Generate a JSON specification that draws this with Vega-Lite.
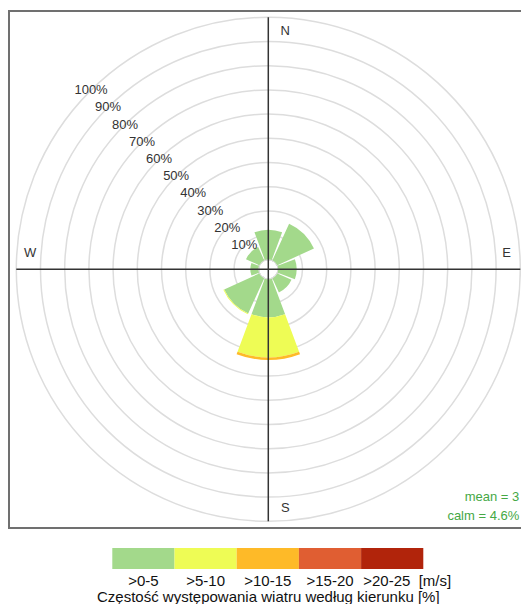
{
  "$schema": "https://vega.github.io/schema/vega-lite/v6.json",
  "padding": {"left": 8, "top": 10, "right": 0, "bottom": 0},
  "spacing": 19,
  "config": {"font": "Liberation Sans", "view": {"stroke": null}},
  "vconcat": [
    {
      "width": 514,
      "height": 517,
      "view": {"stroke": "#707070", "strokeWidth": 2},
      "layer": [
        {
          "data": {"values": [
            {"p": 10, "lab": "10%"}, {"p": 20, "lab": "20%"}, {"p": 30, "lab": "30%"}, {"p": 40, "lab": "40%"}, {"p": 50, "lab": "50%"},
            {"p": 60, "lab": "60%"}, {"p": 70, "lab": "70%"}, {"p": 80, "lab": "80%"}, {"p": 90, "lab": "90%"}, {"p": 100, "lab": "100%"}
          ]},
          "mark": {"type": "arc", "filled": false, "stroke": "#dddddd", "strokeWidth": 1.5, "theta": 0, "theta2": 6.2832},
          "encoding": {
            "x": {"datum": 0, "type": "quantitative", "scale": {"domain": [-259.3, 254.7], "nice": false, "zero": false}, "axis": null},
            "y": {"datum": 0, "type": "quantitative", "scale": {"domain": [-258.7, 258.3], "nice": false, "zero": false}, "axis": null},
            "radius": {"field": "p", "type": "quantitative", "stack": null, "scale": {"type": "linear", "domain": [0, 100], "range": [10, 252], "zero": false, "nice": false}}
          }
        },
        {
          "data": {"values": [
            {"dir": 0, "speed": ">0-5", "lo": 0, "freq": 12.2},
            {"dir": 45, "speed": ">0-5", "lo": 0, "freq": 16.6},
            {"dir": 90, "speed": ">0-5", "lo": 0, "freq": 7.6},
            {"dir": 135, "speed": ">0-5", "lo": 0, "freq": 6.4},
            {"dir": 180, "speed": ">0-5", "lo": 0, "freq": 15.7},
            {"dir": 180, "speed": ">5-10", "lo": 5, "freq": 16.5},
            {"dir": 180, "speed": ">10-15", "lo": 10, "freq": 1.1},
            {"dir": 225, "speed": ">0-5", "lo": 0, "freq": 15.9},
            {"dir": 225, "speed": ">5-10", "lo": 5, "freq": 0.4},
            {"dir": 270, "speed": ">0-5", "lo": 0, "freq": 3.3},
            {"dir": 315, "speed": ">0-5", "lo": 0, "freq": 6.0}
          ]},
          "transform": [
            {"stack": "freq", "groupby": ["dir"], "sort": [{"field": "lo"}], "as": ["r0", "r1"]},
            {"calculate": "datum.dir - 20.5", "as": "a0"},
            {"calculate": "datum.dir + 20.5", "as": "a1"}
          ],
          "mark": {"type": "arc"},
          "encoding": {
            "x": {"datum": 0, "type": "quantitative"},
            "y": {"datum": 0, "type": "quantitative"},
            "theta": {"field": "a0", "type": "quantitative", "stack": null, "scale": {"domain": [0, 360], "range": [0, 6.283185307179586], "zero": false, "nice": false}},
            "theta2": {"field": "a1"},
            "radius": {"field": "r1", "type": "quantitative", "stack": null},
            "radius2": {"field": "r0"},
            "color": {"field": "speed", "type": "nominal", "legend": null,
              "scale": {"domain": [">0-5", ">5-10", ">10-15", ">15-20", ">20-25"], "range": ["#a3d98b", "#eefc55", "#feba28", "#e05e32", "#b1240b"]}}
          }
        },
        {
          "data": {"values": [{}]},
          "mark": {"type": "rule", "color": "#333333", "strokeWidth": 1.5},
          "encoding": {
            "x": {"datum": -252, "type": "quantitative"},
            "x2": {"datum": 252},
            "y": {"datum": 0, "type": "quantitative"}
          }
        },
        {
          "data": {"values": [{}]},
          "mark": {"type": "rule", "color": "#333333", "strokeWidth": 1.5},
          "encoding": {
            "y": {"datum": -252, "type": "quantitative"},
            "y2": {"datum": 252},
            "x": {"datum": 0, "type": "quantitative"}
          }
        },
        {
          "data": {"values": [
            {"p": 10, "lab": "10%"}, {"p": 20, "lab": "20%"}, {"p": 30, "lab": "30%"}, {"p": 40, "lab": "40%"}, {"p": 50, "lab": "50%"},
            {"p": 60, "lab": "60%"}, {"p": 70, "lab": "70%"}, {"p": 80, "lab": "80%"}, {"p": 90, "lab": "90%"}, {"p": 100, "lab": "100%"}
          ]},
          "mark": {"type": "text", "fontSize": 13, "color": "#333333", "align": "center", "baseline": "middle"},
          "encoding": {
            "x": {"datum": 0, "type": "quantitative"},
            "y": {"datum": 0, "type": "quantitative"},
            "theta": {"datum": 315.3, "type": "quantitative"},
            "radius": {"field": "p", "type": "quantitative", "stack": null},
            "text": {"field": "lab"}
          }
        },
        {
          "data": {"values": [{"d": "N", "a": 0}, {"d": "S", "a": 180}]},
          "mark": {"type": "text", "fontSize": 13, "color": "#333333", "align": "center", "baseline": "middle", "dx": 17},
          "encoding": {
            "x": {"datum": 0, "type": "quantitative"},
            "y": {"datum": 0, "type": "quantitative"},
            "theta": {"field": "a", "type": "quantitative", "stack": null},
            "radius": {"datum": 94.3, "type": "quantitative"},
            "text": {"field": "d"}
          }
        },
        {
          "data": {"values": [{"d": "E", "a": 90}, {"d": "W", "a": 270}]},
          "mark": {"type": "text", "fontSize": 13, "color": "#333333", "align": "center", "baseline": "middle", "dy": -16},
          "encoding": {
            "x": {"datum": 0, "type": "quantitative"},
            "y": {"datum": 0, "type": "quantitative"},
            "theta": {"field": "a", "type": "quantitative", "stack": null},
            "radius": {"datum": 94.3, "type": "quantitative"},
            "text": {"field": "d"}
          }
        },
        {
          "data": {"values": [{}]},
          "mark": {"type": "text", "fontSize": 13, "color": "#45a845", "align": "right", "baseline": "middle", "text": "mean = 3"},
          "encoding": {
            "x": {"datum": 251, "type": "quantitative"},
            "y": {"datum": -228, "type": "quantitative"}
          }
        },
        {
          "data": {"values": [{}]},
          "mark": {"type": "text", "fontSize": 13, "color": "#45a845", "align": "right", "baseline": "middle", "text": "calm = 4.6%"},
          "encoding": {
            "x": {"datum": 251, "type": "quantitative"},
            "y": {"datum": -246.7, "type": "quantitative"}
          }
        }
      ]
    },
    {
      "width": 514,
      "height": 21,
      "data": {"values": [
        {"speed": ">0-5"}, {"speed": ">5-10"}, {"speed": ">10-15"}, {"speed": ">15-20"}, {"speed": ">20-25"}
      ]},
      "mark": {"type": "rect"},
      "encoding": {
        "x": {
          "field": "speed", "type": "nominal", "sort": null,
          "scale": {"type": "band", "domain": [">0-5", ">5-10", ">10-15", ">15-20", ">20-25"], "range": [103.3, 414.3], "paddingInner": 0, "paddingOuter": 0},
          "axis": {
            "orient": "bottom", "ticks": false, "domain": false, "labelAngle": 0,
            "labelFontSize": 15, "labelColor": "#111111", "labelPadding": 4, "labelOverlap": false, "labelFlush": false,
            "labelExpr": "datum.value == '>20-25' ? '>20-25\u00a0\u00a0[m/s]' : datum.label",
            "labelAlign": {"condition": {"test": "datum.value == '>20-25'", "value": "left"}, "value": "center"},
            "labelOffset": {"condition": {"test": "datum.value == '>20-25'", "value": -29}, "value": 0},
            "title": "Częstość występowania wiatru według kierunku [%]",
            "titleFontSize": 15, "titleFontWeight": "normal", "titleColor": "#111111", "titlePadding": 1
          }
        },
        "color": {"field": "speed", "type": "nominal", "legend": null,
          "scale": {"domain": [">0-5", ">5-10", ">10-15", ">15-20", ">20-25"], "range": ["#a3d98b", "#eefc55", "#feba28", "#e05e32", "#b1240b"]}}
      }
    }
  ]
}
